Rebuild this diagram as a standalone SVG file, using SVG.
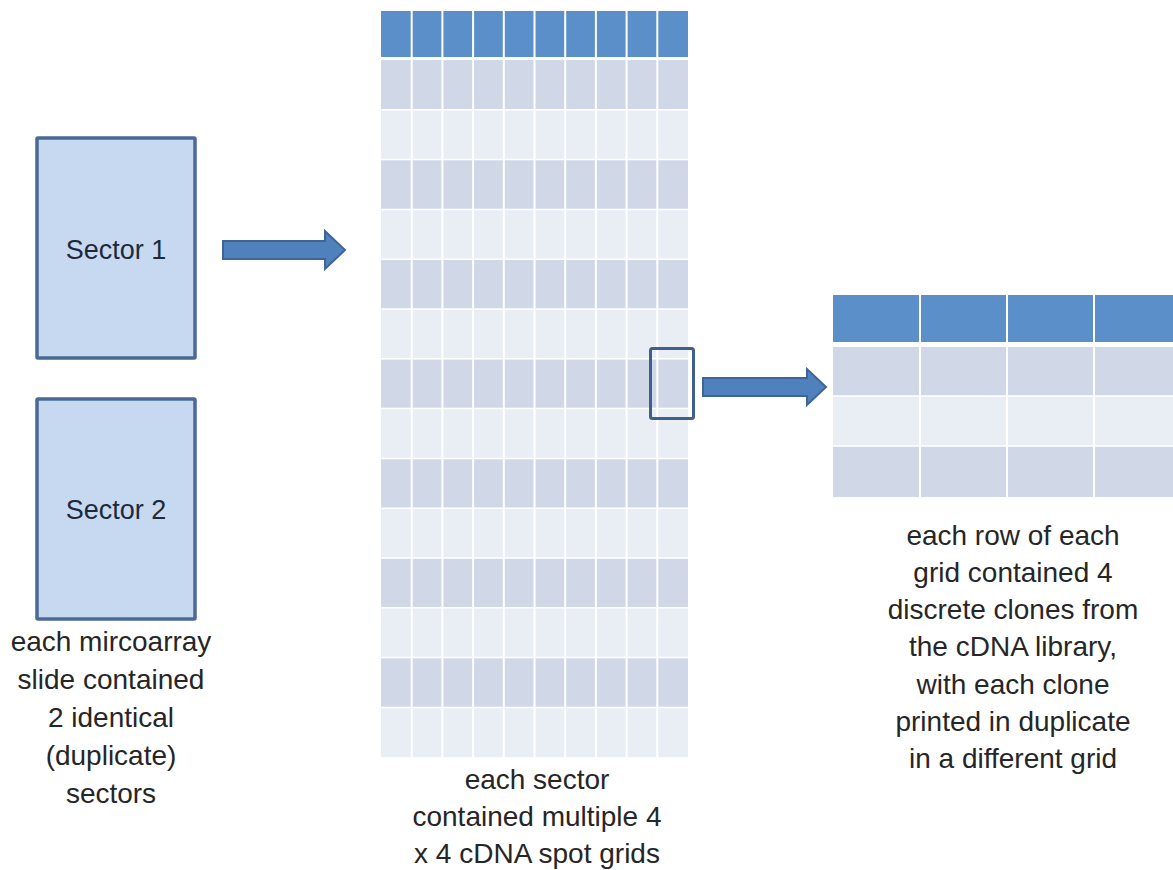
<svg xmlns="http://www.w3.org/2000/svg" width="1173" height="870" viewBox="0 0 1173 870">
  <style>
    .hdr { fill: #5b8fc9; }
    .dark { fill: #d0d8e8; }
    .light { fill: #e9edf4; }
    .grid { stroke: #ffffff; stroke-width: 2; fill: none; }
    .hgrid { stroke: #ffffff; stroke-width: 1.5; fill: none; }
    .sector { fill: #c6d9f1; stroke: #4a6a94; stroke-width: 3.5; }
    .arrow { fill: #4f81bd; stroke: #3f649a; stroke-width: 2; }
    .lbl { font-family: "Liberation Sans", Arial, sans-serif; font-size: 28px; fill: #262626; text-anchor: middle; }
    .slbl { font-family: "Liberation Sans", Arial, sans-serif; font-size: 27px; fill: #1c2a3c; text-anchor: middle; }
  </style>
  <rect width="1173" height="870" fill="#ffffff"/>

  <g id="sector1">
    <rect class="sector" x="37" y="138" width="158" height="220" rx="1"/>
    <text class="slbl" x="116" y="259">Sector 1</text>
  </g>

  <g id="sector2">
    <rect class="sector" x="37" y="399" width="158" height="220" rx="1"/>
    <text class="slbl" x="116" y="519">Sector 2</text>
  </g>

  <g id="slide-label">
    <text class="lbl" x="111" y="651">each mircoarray</text>
    <text class="lbl" x="111" y="689">slide contained</text>
    <text class="lbl" x="111" y="727">2 identical</text>
    <text class="lbl" x="111" y="765">(duplicate)</text>
    <text class="lbl" x="111" y="803">sectors</text>
  </g>

  <g id="sector-table">
    <rect class="hdr" x="381" y="11" width="307" height="46"/>
    <rect class="light" x="381" y="60" width="307" height="697.2"/>
    <rect class="dark" x="381" y="60" width="307" height="49.8"/>
    <rect class="dark" x="381" y="159.6" width="307" height="49.8"/>
    <rect class="dark" x="381" y="259.2" width="307" height="49.8"/>
    <rect class="dark" x="381" y="358.8" width="307" height="49.8"/>
    <rect class="dark" x="381" y="458.4" width="307" height="49.8"/>
    <rect class="dark" x="381" y="558" width="307" height="49.8"/>
    <rect class="dark" x="381" y="657.6" width="307" height="49.8"/>
    <path class="hgrid" d="M381 109.8H688M381 159.6H688M381 209.4H688M381 259.2H688M381 309H688M381 358.8H688M381 408.6H688M381 458.4H688M381 508.2H688M381 558H688M381 607.8H688M381 657.6H688M381 707.4H688"/>
    <path class="grid" d="M411.7 11V757.2M442.4 11V757.2M473.1 11V757.2M503.8 11V757.2M534.5 11V757.2M565.2 11V757.2M595.9 11V757.2M626.6 11V757.2M657.3 11V757.2"/>
  </g>

  <g id="highlight">
    <rect x="650.5" y="348.5" width="43" height="70" rx="2" fill="none" stroke="#3f5f8c" stroke-width="3"/>
  </g>

  <g id="sector-label">
    <text class="lbl" x="537" y="789">each sector</text>
    <text class="lbl" x="537" y="826">contained multiple 4</text>
    <text class="lbl" x="537" y="863">x 4 cDNA spot grids</text>
  </g>

  <g id="grid-table">
    <rect class="hdr" x="833" y="295" width="347" height="47"/>
    <rect class="dark" x="833" y="347" width="347" height="49"/>
    <rect class="light" x="833" y="396" width="347" height="50"/>
    <rect class="dark" x="833" y="446" width="347" height="51"/>
    <path class="hgrid" d="M833 396H1180M833 446H1180"/>
    <path class="grid" d="M920 295V497M1007 295V497M1094 295V497"/>
  </g>

  <g id="grid-label">
    <text class="lbl" x="1013" y="545">each row of each</text>
    <text class="lbl" x="1013" y="582">grid contained 4</text>
    <text class="lbl" x="1013" y="619">discrete clones from</text>
    <text class="lbl" x="1013" y="656">the cDNA library,</text>
    <text class="lbl" x="1013" y="694">with each clone</text>
    <text class="lbl" x="1013" y="731">printed in duplicate</text>
    <text class="lbl" x="1013" y="768">in a different grid</text>
  </g>

  <g id="connectors">
    <polygon class="arrow" points="223,241 325,241 325,231 345,250 325,269 325,259 223,259"/>
    <polygon class="arrow" points="703,378 807,378 807,369 826,387 807,405 807,396 703,396"/>
  </g>
</svg>
